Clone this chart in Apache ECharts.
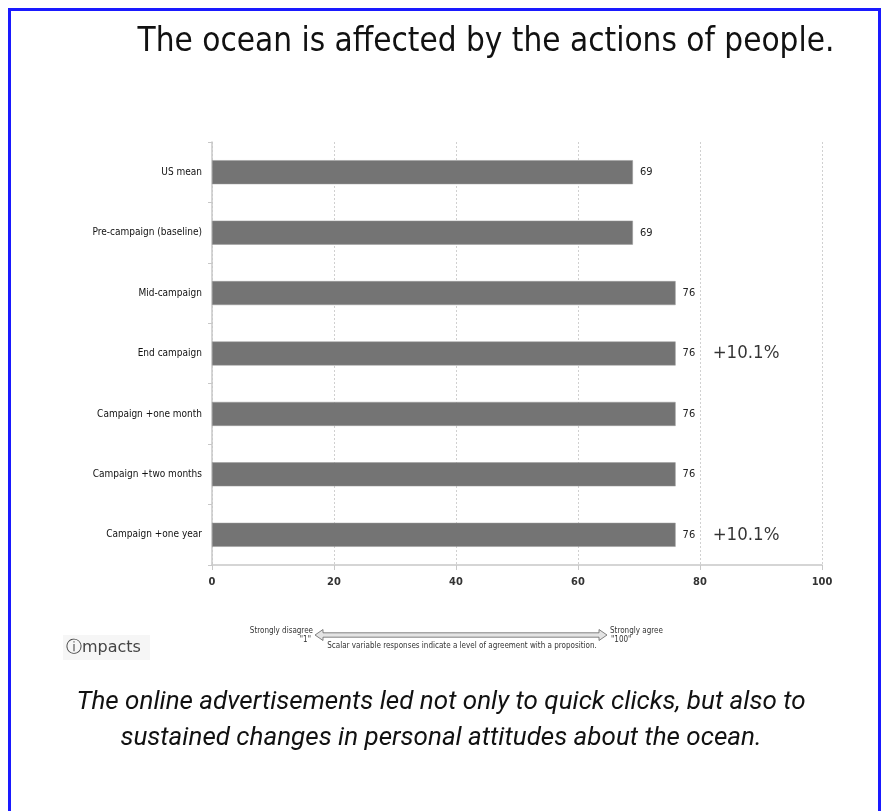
<!DOCTYPE html>
<html>
<head>
<meta charset="utf-8">
<script src="https://cdn.jsdelivr.net/npm/echarts@6/dist/echarts.min.js"></script>
<style>html,body{margin:0;padding:0;background:#fff}#c{width:882px;height:811px}</style>
</head>
<body>
<div id="c"></div>
<script>
const categories = ['US mean','Pre-campaign (baseline)','Mid-campaign','End campaign','Campaign +one month','Campaign +two months','Campaign +one year'];
const values = [69, 69, 76, 76, 76, 76, 76];
const changeLabels = ['', '', '', '+10.1%', '', '', '+10.1%'];
const xTicks = [0, 20, 40, 60, 80, 100];

const NARROW = "'Liberation Sans Narrow', 'DejaVu Sans Condensed', 'Liberation Sans', sans-serif";

const chart = echarts.init(document.getElementById('c'), null, {renderer: 'canvas'});

const changeData = [];
changeLabels.forEach((t, i) => { if (t) changeData.push({value: [values[i], categories[i]], label: {formatter: t}}); });

// arrow shape (decoration)
const ax0 = 315, ax1 = 607, ay = 635, sh = 2.2, hh = 5.5, hl = 8;
const arrowPts = [
  [ax0, ay], [ax0 + hl, ay - hh], [ax0 + hl, ay - sh], [ax1 - hl, ay - sh], [ax1 - hl, ay - hh],
  [ax1, ay], [ax1 - hl, ay + hh], [ax1 - hl, ay + sh], [ax0 + hl, ay + sh], [ax0 + hl, ay + hh]
];

chart.setOption({
  backgroundColor: '#fff',
  animation: false,
  title: [{
    text: 'The ocean is affected by the actions of people.',
    left: 481, top: 21, textAlign: 'center',
    textStyle: {fontFamily: NARROW, fontSize: 33, fontWeight: 'normal', color: '#111'}
  }],
  grid: {left: 212, right: 60, top: 142, bottom: 246},
  xAxis: {
    type: 'value', min: 0, max: 100, interval: 20,
    axisLine: {show: true, lineStyle: {color: '#c8c8c8', width: 1.5}},
    axisTick: {show: true, length: 5, lineStyle: {color: '#c8c8c8'}},
    splitLine: {show: true, lineStyle: {color: '#d0d0d0', type: [2, 2], width: 1}},
    axisLabel: {
      fontFamily: NARROW, fontSize: 11, fontWeight: 'bold', color: '#333', margin: 12,
      formatter: v => xTicks.includes(v) ? String(v) : ''
    }
  },
  yAxis: {
    type: 'category', data: categories, inverse: true,
    axisLine: {show: true, lineStyle: {color: '#c8c8c8', width: 1.5}},
    axisTick: {show: true, length: 4, lineStyle: {color: '#c8c8c8'}},
    axisLabel: {fontFamily: NARROW, fontSize: 10, color: '#111', margin: 10}
  },
  series: [{
    type: 'bar', data: values, barWidth: 24,
    itemStyle: {color: '#747474', borderColor: '#9a9a9a', borderWidth: 0.5},
    label: {show: true, position: 'right', distance: 7, fontFamily: NARROW, fontSize: 11, color: '#222'}
  }, {
    type: 'scatter', data: changeData, symbolSize: 0.1, silent: true,
    label: {show: true, position: 'right', distance: 37, fontFamily: NARROW, fontSize: 18.5, color: '#000'}
  }],
  graphic: [
    {type: 'rect', shape: {x: 9.5, y: 9.5, width: 870, height: 820}, style: {fill: 'none', stroke: '#1a1aff', lineWidth: 3}, z: 100},
    {type: 'rect', shape: {x: 63, y: 635, width: 87, height: 25}, style: {fill: '#f6f6f6'}},
    {type: 'text', x: 66, y: 648, style: {text: 'ⓘmpacts', font: "16px 'DejaVu Sans'", fill: '#444', verticalAlign: 'middle'}},
    {type: 'polygon', shape: {points: arrowPts}, style: {fill: '#e4e4e4', stroke: '#666', lineWidth: 0.8}},
    {type: 'text', x: 313, y: 631, style: {text: 'Strongly disagree', font: "8px " + NARROW, fill: '#333', align: 'right', verticalAlign: 'middle'}},
    {type: 'text', x: 311, y: 640, style: {text: '"1"', font: "8px " + NARROW, fill: '#333', align: 'right', verticalAlign: 'middle'}},
    {type: 'text', x: 610, y: 631, style: {text: 'Strongly agree', font: "8px " + NARROW, fill: '#333', align: 'left', verticalAlign: 'middle'}},
    {type: 'text', x: 611, y: 640, style: {text: '"100"', font: "8px " + NARROW, fill: '#333', align: 'left', verticalAlign: 'middle'}},
    {type: 'text', x: 462, y: 646, style: {text: 'Scalar variable responses indicate a level of agreement with a proposition.', font: "8px " + NARROW, fill: '#333', align: 'center', verticalAlign: 'middle'}},
    {type: 'text', x: 441, y: 702, style: {text: 'The online advertisements led not only to quick clicks, but also to', font: "italic 26px Roboto, 'Open Sans', sans-serif", fill: '#111', align: 'center', verticalAlign: 'middle'}},
    {type: 'text', x: 441, y: 738, style: {text: 'sustained changes in personal attitudes about the ocean.', font: "italic 26px Roboto, 'Open Sans', sans-serif", fill: '#111', align: 'center', verticalAlign: 'middle'}}
  ]
});
</script>
</body>
</html>
